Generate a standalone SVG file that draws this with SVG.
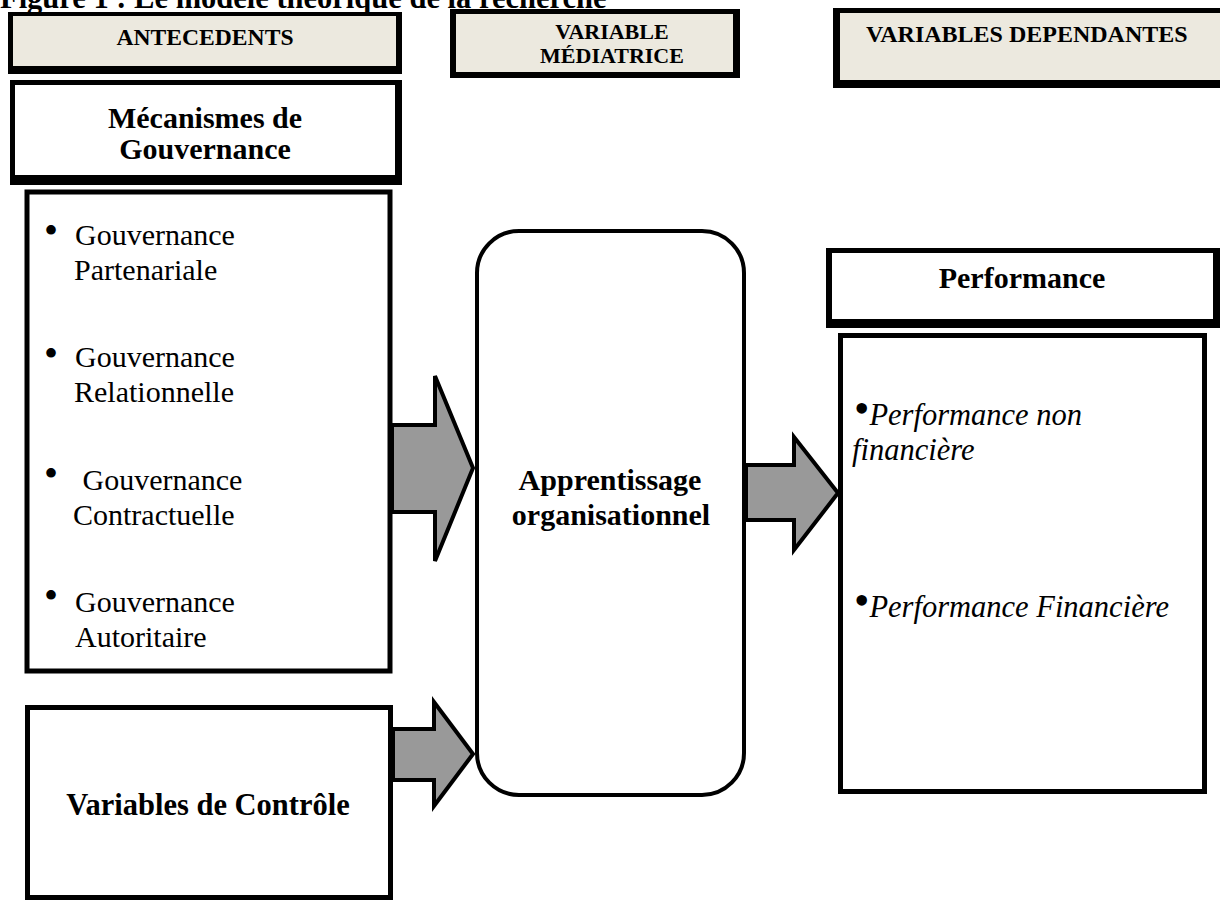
<svg xmlns="http://www.w3.org/2000/svg" width="1220" height="900" viewBox="0 0 1220 900">
<style>
  .hdr { fill: #ECE9DF; }
  .blk { fill: #000; }
  .wht { fill: #fff; }
  .box { fill: #fff; stroke: #000; stroke-width: 5; }
  .rnd { fill: #fff; stroke: #000; stroke-width: 4; }
  .arrow { fill: #999999; stroke: #000; stroke-width: 4; stroke-linejoin: miter; }
  .t { font-family: "Liberation Serif", "Times New Roman", serif; fill: #000; }
  .b { font-weight: bold; }
  .i { font-style: italic; }
  .s30 { font-size: 30px; }
  .s24 { font-size: 23.6px; }
  .bul { font-size: 40px; }
</style>
<rect width="1220" height="900" fill="#fff"/>
<text id="title" class="t b" font-size="30.5" x="0" y="8">Figure 1 : Le modèle théorique de la recherche</text>

<g id="antecedents">
  <rect class="blk" x="8" y="12" width="394" height="62"/>
  <rect class="hdr" x="13" y="16" width="383" height="50"/>
  <text class="t b s24" x="205" y="45" text-anchor="middle">ANTECEDENTS</text>
</g>
<g id="variable-mediatrice">
  <rect class="blk" x="450" y="9" width="290" height="69"/>
  <rect class="hdr" x="456" y="14" width="277" height="58"/>
  <text class="t b" font-size="22" x="612" y="39" text-anchor="middle">VARIABLE</text>
  <text class="t b" font-size="22" x="612" y="63" text-anchor="middle">MÉDIATRICE</text>
</g>
<g id="variables-dependantes">
  <rect class="blk" x="833" y="8" width="400" height="80"/>
  <rect class="hdr" x="840" y="13" width="400" height="67"/>
  <text class="t b" font-size="24" x="866" y="42">VARIABLES DEPENDANTES</text>
</g>

<g id="mecanismes">
  <rect class="blk" x="10" y="80" width="392" height="105"/>
  <rect class="wht" x="15" y="85" width="380" height="90"/>
  <text class="t b s30" x="205" y="128" text-anchor="middle">Mécanismes de</text>
  <text class="t b s30" x="205" y="159" text-anchor="middle">Gouvernance</text>
</g>

<g id="gouvernance-list">
  <rect class="box" x="27" y="192" width="363" height="479"/>
  <text class="t bul" x="44" y="244">•</text>
  <text class="t s30" x="75" y="245">Gouvernance</text>
  <text class="t s30" x="74" y="280">Partenariale</text>
  <text class="t bul" x="44" y="367">•</text>
  <text class="t s30" x="75" y="367">Gouvernance</text>
  <text class="t s30" x="74" y="402">Relationnelle</text>
  <text class="t bul" x="44" y="487">•</text>
  <text class="t s30" x="75" y="490" xml:space="preserve"> Gouvernance</text>
  <text class="t s30" x="73" y="525">Contractuelle</text>
  <text class="t bul" x="44" y="609">•</text>
  <text class="t s30" x="75" y="612">Gouvernance</text>
  <text class="t s30" x="75" y="647">Autoritaire</text>
</g>

<g id="controle">
  <rect class="box" x="27.5" y="707.5" width="363" height="190"/>
  <text class="t b" font-size="30.5" x="208" y="815" text-anchor="middle">Variables de Contrôle</text>
</g>

<g id="apprentissage">
  <rect class="rnd" x="477" y="231" width="267" height="564" rx="42" ry="42"/>
  <text class="t b s30" x="610" y="490" text-anchor="middle">Apprentissage</text>
  <text class="t b s30" x="611" y="525" text-anchor="middle">organisationnel</text>
</g>

<g id="performance-header">
  <rect class="blk" x="826" y="248" width="394" height="80"/>
  <rect class="wht" x="832" y="253" width="381" height="66"/>
  <text class="t b s30" x="1022" y="288" text-anchor="middle">Performance</text>
</g>

<g id="performance-list">
  <rect class="box" x="840.5" y="335.5" width="364" height="456"/>
  <text class="t" x="854"><tspan font-size="44" y="423">•</tspan><tspan class="i" font-size="30.5" y="425">Performance non</tspan></text>
  <text class="t i" font-size="30.5" x="852" y="460">financière</text>
  <text class="t" x="854"><tspan font-size="44" y="615">•</tspan><tspan class="i" font-size="30.5" y="617">Performance Financière</tspan></text>
</g>

<g id="connectors">
  <polygon class="arrow" points="392,425 435,425 435,376 473,468 435,561 435,512 392,512"/>
  <polygon class="arrow" points="746,465 794,465 794,437 838,493 794,550 794,520 746,520"/>
  <polygon class="arrow" points="393,729 434,729 434,702 473,754 434,806 434,780 393,780"/>
</g>
</svg>
